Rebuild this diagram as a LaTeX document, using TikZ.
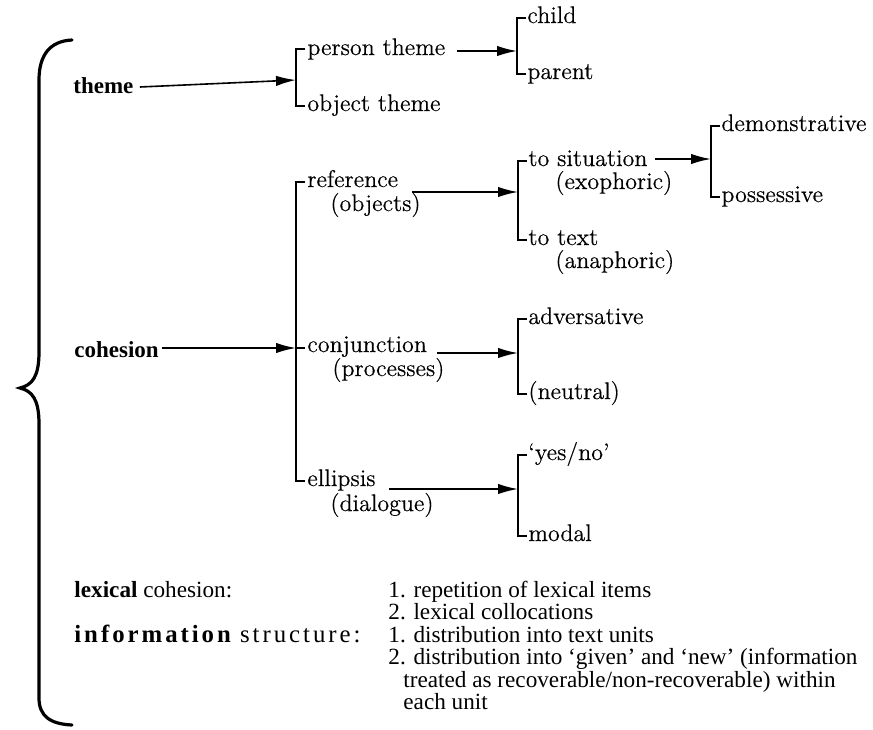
\documentclass[tikz,border=0pt]{standalone}
\usepackage{fontspec}
\newfontfamily\tms{Liberation Serif}
\newfontfamily\lmr{Latin Modern Roman}[FakeBold=0.4]
\usetikzlibrary{arrows.meta,calc}
\newcommand\brkt[3]{\draw[brk] (#1+9,#2) -- (#1,#2) -- (#1,#3) -- (#1+9,#3);}
\tikzset{
  lbl/.style={anchor=base west, inner sep=0pt, font=\lmr\fontsize{12}{14}\selectfont},
  head/.style={anchor=base west, inner sep=0pt, font=\tms\bfseries\fontsize{11.5}{13}\selectfont},
  body/.style={anchor=base west, inner sep=0pt, font=\tms\fontsize{11.6}{13}\selectfont},
  brk/.style={line width=0.7pt},
  arr/.style={line width=0.8pt, -{Latex[length=10pt,width=5.2pt]}},
  bracestyle/.style={line width=1.6pt, line cap=round}
}
\begin{document}
\begin{tikzpicture}[x=0.5pt,y=-0.5pt]
\useasboundingbox (0,0) rectangle (873,729);
% big brace
\draw[bracestyle] (72,40) .. controls (50,41) and (39,55) .. (39,80) -- (39,352)
  .. controls (39,377) and (32,385) .. (20,388) .. controls (32,391) and (39,399) .. (39,424)
  -- (39,698) .. controls (39,716) and (50,724) .. (72,725);
% bracket positions
\coordinate (bA) at (296,80);
\coordinate (bB) at (517,45);
\coordinate (bC) at (296,348);
\coordinate (bD) at (518,192);
\coordinate (bE) at (711,159);
\coordinate (bF) at (518,353);
\coordinate (bG) at (518,489);
% heads
\node[head] (theme) at (73,93) {theme};
\node[head] (cohesion) at (74,357) {cohesion};
% theme branch
\brkt{296}{49}{106}
\node[lbl] (person) at (307,55) {person theme};
\node[lbl] (object) at (307,111) {object theme};
\brkt{517}{18}{74}
\node[lbl] (child) at (527,23) {child};
\node[lbl] (parent) at (527,79) {parent};
% cohesion branch
\brkt{296}{182}{481}
\draw[brk] (bC) -- ++(9,0);
\node[lbl] (reference) at (307,187) {reference};
\node[lbl] (objects) at (330,211) {(objects)};
\node[lbl] (conjunction) at (307,352) {conjunction};
\node[lbl] (processes) at (332,376) {(processes)};
\node[lbl] (ellipsis) at (307,486) {ellipsis};
\node[lbl] (dialogue) at (330,511) {(dialogue)};
\brkt{518}{161}{240}
\node[lbl] (situation) at (528,166) {to situation};
\node[lbl] (exophoric) at (555,189) {(exophoric)};
\node[lbl] (totext) at (528,245) {to text};
\node[lbl] (anaphoric) at (555,268) {(anaphoric)};
\brkt{711}{126}{197}
\node[lbl] (demonstrative) at (721,131) {demonstrative};
\node[lbl] (possessive) at (721,202) {possessive};
\brkt{518}{319}{394}
\node[lbl] (adversative) at (528,324) {adversative};
\node[lbl] (neutral) at (528,399) {(neutral)};
\brkt{518}{455}{536}
\node[lbl] (yesno) at (528,460) {‘yes/no’};
\node[lbl] (modal) at (528,541) {modal};
% arrows
\draw[arr] ($(theme.base east)+(6,-6)$) -- (bA);
\coordinate (s0) at ($(cohesion.base east)+(3,-9)$);
\draw[arr] (s0) -- (s0 -| bC);
\coordinate (s1) at ($(person.base east)+(11,-4)$);
\draw[arr] (s1) -- (s1 -| bB);
\coordinate (s2) at ($(reference.base east)+(13,5)$);
\draw[arr] (s2) -- (s2 -| bD);
\coordinate (s3) at ($(situation.base east)+(7,-7)$);
\draw[arr] (s3) -- (s3 -| bE);
\coordinate (s4) at ($(conjunction.base east)+(10,1)$);
\draw[arr] (s4) -- (s4 -| bF);
\coordinate (s5) at ($(ellipsis.base east)+(13,3)$);
\draw[arr] (s5) -- (s5 -| bG);
% bottom text
\node[body] (lex) at (74,597) {{\bfseries lexical} cohesion:};
\node[body] (l1) at (388,597) {1. repetition of lexical items};
\node[body] (l2) at (388,619.5) {2. lexical collocations};
\node[body, font=\tms\fontsize{12.4}{13}\selectfont] (inf) at (74,642) {\addfontfeature{LetterSpace=12}{\bfseries information} structure:};
\node[body] (i1) at (388,642) {1. distribution into text units};
\node[body] (i2) at (388,664.5) {2. distribution into ‘given’ and ‘new’ (information};
\node[body] (i3) at (403,687) {treated as recoverable/non-recoverable) within};
\node[body] (i4) at (403,709.5) {each unit};
\end{tikzpicture}
\end{document}
